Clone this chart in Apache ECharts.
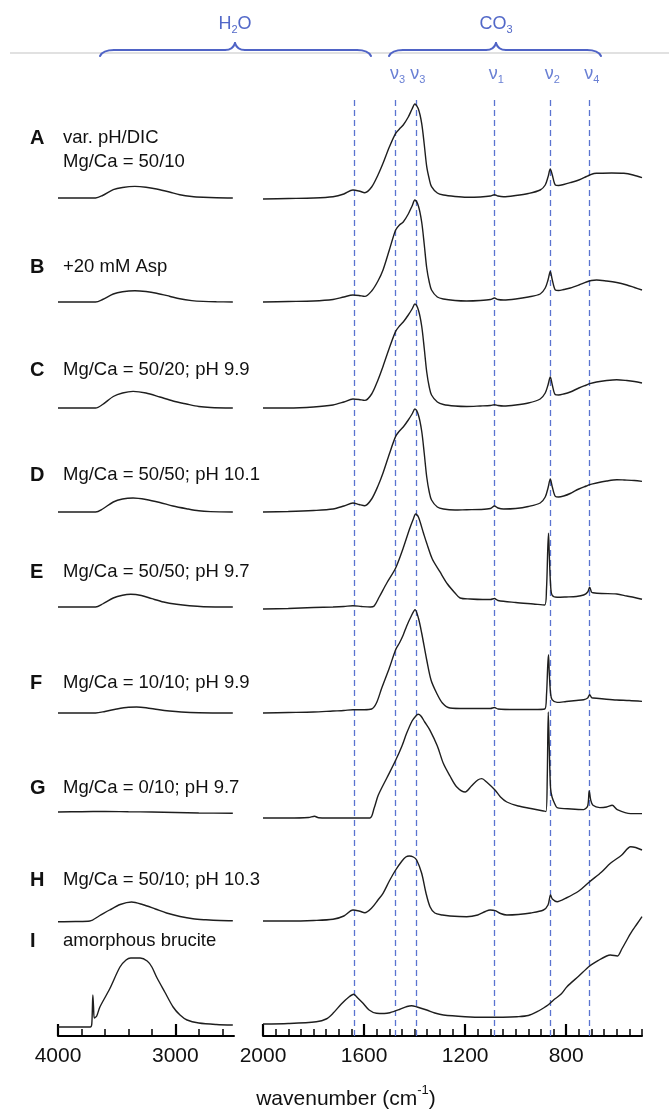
<!DOCTYPE html>
<html><head><meta charset="utf-8">
<script src="https://cdn.jsdelivr.net/npm/echarts@6/dist/echarts.min.js"></script>
<style>html,body{margin:0;padding:0;background:#fff}#c{width:669px;height:1111px}</style>
</head><body><div id="c"></div>
<script>
// ---------- labels ----------
const sampleIds = ['A','B','C','D','E','F','G','H','I'];
const sampleText = [
  ['var. pH/DIC','Mg/Ca = 50/10'],
  ['+20 mM Asp'],
  ['Mg/Ca = 50/20; pH 9.9'],
  ['Mg/Ca = 50/50; pH 10.1'],
  ['Mg/Ca = 50/50; pH 9.7'],
  ['Mg/Ca = 10/10; pH 9.9'],
  ['Mg/Ca = 0/10; pH 9.7'],
  ['Mg/Ca = 50/10; pH 10.3'],
  ['amorphous brucite']
];
// ---------- axis ticks ----------
const ticksH2O = [4000, 3000];
const minorTicksH2O = [3800, 3600, 3400, 3200, 2800, 2600];
const ticksCO3 = [2000, 1600, 1200, 800];
const minorStepCO3 = 50;
const rangeH2O = [2500, 4000];
const rangeCO3 = [500, 2000];
// ---------- band positions (cm-1) ----------
const bandLines = [1640, 1475, 1395, 1085, 863, 707];
const bandLabelWn = [1475, 1395, 1085, 863, 707];
const bandLabelSub = ['3', '3', '1', '2', '4'];
// ---------- vertical offsets of each trace (A..I) ----------
const offsetsH2O = [838, 734, 628, 524, 429, 323, 224, 115, 9];
const offsetsCO3 = [837, 734, 628, 524, 427, 323, 218, 115, 12];

// ---------- H2O region (4000-2500) ----------
const h2oA = [[4000,0],[3800,0],[3680,0],[3620,2.5],[3529,8.3],[3450,10.5],[3345,11.6],[3250,10.8],[3160,9],[3050,6],[2962,3.3],[2860,1.5],[2763,0.7],[2650,0.2],[2510,0]];
const h2oB = [[4000,0],[3800,0],[3680,0],[3620,2.5],[3529,8],[3450,10.3],[3345,11.3],[3250,10.5],[3160,8.8],[3050,5.8],[2962,3.2],[2860,1.4],[2763,0.6],[2650,0.2],[2510,0]];
const h2oC = [[4000,0],[3800,0],[3680,0],[3620,3.5],[3529,11.5],[3450,15],[3360,16.6],[3250,15],[3132,11],[3020,7],[2905,4],[2800,1.5],[2700,0.5],[2510,0]];
const h2oD = [[4000,0],[3800,0],[3680,0],[3620,3],[3529,10],[3450,13],[3360,14],[3250,12.5],[3132,9.5],[3020,6],[2905,3.3],[2800,1.2],[2700,0.4],[2510,0]];
const h2oE = [[4000,0],[3800,0],[3680,0],[3620,3],[3529,9],[3450,11.8],[3380,12.7],[3290,11.5],[3200,8.3],[3100,5],[2990,2.7],[2880,1.2],[2760,0.3],[2510,0]];
const h2oF = [[4000,0],[3800,0],[3680,0],[3600,1.5],[3500,4],[3400,5.8],[3330,6],[3250,5.3],[3150,3.5],[3050,2],[2950,1],[2800,0.3],[2510,0]];
const h2oG = [[4000,0],[3800,0.3],[3600,0.5],[3400,0.2],[3200,0],[3000,-0.5],[2800,-1],[2510,-1.3]];
const h2oH = [[4000,-0.7],[3850,-0.5],[3728,0],[3650,5],[3560,11],[3470,16.5],[3373,19],[3280,16.5],[3170,12],[3075,8],[2960,4.5],[2850,2.2],[2740,1.2],[2620,0.5],[2510,0.3]];
const h2oI = [[4000,0],[3800,0],[3725,0],[3712,3],[3703,32],[3697,20],[3690,9],[3670,11],[3643,20],[3560,38],[3472,60],[3420,67],[3380,69],[3300,69],[3240,66],[3200,60],[3160,50],[3090,35],[3019,20],[2960,12],[2900,7],[2800,4],[2650,2.5],[2510,2]];

// ---------- CO3 region (2000-500) ----------
const co3A = [[2000,0],[1900,0.5],[1800,1],[1723,2.3],[1680,5],[1644,9],[1620,8],[1597,6.3],[1570,12],[1545,24],[1525,35.7],[1500,52],[1475,65.7],[1460,70],[1445,74],[1425,82],[1410,90],[1399,95],[1385,90],[1372,75.7],[1362,55],[1352,32.3],[1342,20],[1333,12.3],[1310,6],[1286,4],[1240,2.5],[1194,1.7],[1140,2],[1100,3],[1084,4.3],[1070,3],[1048,2.3],[1000,3.5],[950,5.5],[903,9],[883,14],[872,22],[863,30],[855,24],[843,14],[830,13.5],[810,14.5],[784,16.3],[750,19],[720,22.5],[707,24],[690,25.5],[678,25.7],[620,26],[572,25.7],[535,24],[500,21.3]];
const co3B = [[2000,0],[1900,0.5],[1800,1],[1723,2.5],[1680,5],[1644,7],[1620,6.5],[1597,5.6],[1570,11],[1545,21],[1525,32],[1500,52],[1475,72],[1460,77],[1445,80],[1425,88],[1410,96],[1399,102],[1385,96],[1372,80],[1362,58],[1352,34],[1342,20],[1333,12],[1310,5],[1286,3],[1240,1.5],[1194,1],[1140,1.5],[1100,2.5],[1084,4],[1070,2.5],[1048,2],[1000,3],[950,5],[903,8],[883,14],[872,22],[863,30.6],[855,22],[843,12],[830,11.5],[810,12.5],[784,14],[750,17],[720,20],[700,21.5],[680,22],[640,21],[600,19.5],[560,17],[530,14.5],[500,12]];
const co3C = [[2000,0],[1900,0],[1800,1],[1723,3],[1680,6],[1644,9],[1620,8.5],[1597,7.6],[1570,14],[1545,28],[1525,41.6],[1500,60],[1475,76.6],[1460,82],[1445,86],[1425,93],[1410,99],[1399,104],[1385,98],[1372,82],[1362,60],[1352,36],[1342,21],[1333,13],[1310,6],[1286,3.5],[1240,2],[1194,1.5],[1140,2],[1100,2.5],[1084,3.3],[1070,2.5],[1048,2],[1000,3],[950,5],[903,9],[883,15],[872,23],[863,31],[855,23],[843,13.3],[830,13],[810,14],[784,16],[750,20],[720,23],[707,24.3],[680,26],[640,27.5],[600,28.3],[560,27.5],[530,26.5],[500,25]];
const co3D = [[2000,0],[1900,0.5],[1800,1.5],[1723,3],[1680,6],[1644,9],[1620,7.5],[1597,6.3],[1570,13],[1545,26],[1525,39],[1500,58],[1475,75.6],[1460,81],[1445,85],[1425,92],[1410,98],[1399,103],[1385,97],[1372,81],[1362,59],[1352,35],[1342,20],[1333,12],[1310,5],[1286,3],[1240,2],[1194,2.3],[1140,2.5],[1100,3.5],[1084,6],[1070,4],[1048,3],[1000,3.5],[950,5.5],[903,9],[883,15],[872,24],[863,33],[855,25],[843,15.6],[830,15],[810,16],[784,18.5],[750,23],[720,26],[707,27.3],[680,29],[640,31],[600,32.3],[570,32],[530,31.5],[500,30.6]];
const co3E = [[2000,0],[1900,0.5],[1800,1.5],[1723,2],[1680,2.5],[1644,3.3],[1610,2.5],[1575,2],[1560,3],[1540,12],[1510,26],[1475,41],[1445,61],[1420,80],[1405,90],[1396,95],[1385,92],[1365,76],[1352,65.7],[1330,50],[1300,37.3],[1270,25],[1240,16],[1220,11],[1180,10],[1130,9.5],[1100,9.5],[1084,10.5],[1070,8.5],[1000,6.5],[930,5],[885,4],[878,20],[873,60],[870,75.7],[867,55],[862,25],[856,14],[836,11.7],[800,12],[760,12.5],[731,14],[715,17],[707,21.7],[700,17],[694,16.3],[660,15.5],[600,15],[560,13],[530,11.5],[500,9.7]];
const co3F = [[2000,0],[1900,0.5],[1800,1],[1723,2],[1680,2.5],[1644,3.3],[1600,3.3],[1570,4],[1551,10],[1530,25],[1500,45],[1475,63.3],[1460,70],[1445,78],[1432,86.6],[1415,96],[1398,103.3],[1385,95],[1372,80],[1352,53],[1335,33],[1313,20],[1290,10],[1260,5],[1200,4.5],[1100,4.5],[1084,5.5],[1070,4],[1000,3.5],[930,3.5],[885,4],[878,18],[873,48],[870,58.3],[867,40],[862,20],[856,13.3],[836,10.6],[800,11.5],[760,12.5],[731,13.3],[715,15],[707,18.3],[700,15.5],[694,15],[650,14],[600,13],[550,12.5],[500,11.6]];
const co3G = [[2000,0],[1900,0],[1820,0.5],[1796,1.7],[1780,0.3],[1700,0],[1640,0],[1577,0],[1560,10],[1544,22.7],[1510,40],[1475,57.7],[1450,72],[1432,84.4],[1410,97],[1395,102],[1386,103.7],[1375,102],[1360,96],[1339,87.7],[1310,72],[1286,54.4],[1260,42],[1233,31],[1200,26],[1175,32],[1150,38],[1134,39.4],[1115,36],[1081,27.7],[1060,21],[1035,16],[990,12],[940,9.5],[890,7],[880,6.5],[875,40],[871,106],[867,70],[862,30],[856,21],[845,14],[836,10.4],[780,9],[731,8.4],[715,12],[709,27],[703,18],[694,12.7],[667,10.4],[640,11],[618,12.7],[598,8.4],[545,4.4],[500,4.4]];
const co3H = [[2000,0],[1900,0],[1800,0.5],[1723,1.7],[1680,5],[1644,11],[1620,10],[1597,8.3],[1570,13],[1545,21],[1525,27.7],[1500,40],[1475,51],[1450,60],[1435,64],[1421,65],[1405,64],[1392,61],[1372,47.7],[1355,28],[1339,14.3],[1320,8],[1290,6],[1260,5],[1194,4.3],[1150,6],[1120,9.5],[1101,11],[1081,10.3],[1060,7.5],[1035,6],[990,6.5],[940,8],[890,11],[872,16],[862,26],[855,22],[836,19.3],[800,23],[750,30],[707,39.3],[660,49],[625,57.7],[580,66],[545,74.3],[525,73.5],[500,71]];
const co3I = [[2000,0],[1900,0.5],[1789,2.3],[1750,5],[1723,10.7],[1690,20],[1660,27],[1641,29.7],[1625,26],[1604,20.7],[1580,14],[1551,10.7],[1520,10.5],[1498,11.3],[1460,14.5],[1430,17.5],[1412,18.3],[1390,17],[1352,14],[1320,11],[1286,9],[1200,7.3],[1127,6.7],[1050,6.8],[995,7.3],[950,8.5],[915,12.3],[890,16],[872,19],[850,24],[820,30],[797,37.3],[750,48],[707,58],[670,64],[640,68],[625,69],[598,68],[580,75],[560,84],[545,90.7],[520,100],[500,107.3]];

const spectraH2O = [h2oA, h2oB, h2oC, h2oD, h2oE, h2oF, h2oG, h2oH, h2oI];
const spectraCO3 = [co3A, co3B, co3C, co3D, co3E, co3F, co3G, co3H, co3I];

// ---------- styles ----------
const FONT = 'Liberation Sans, Arial, Helvetica, sans-serif';
const LINE_COLOR = '#1e1e1e';
const BLUE_DASH = '#5b74d0';
const BLUE_TEXT = '#5268c8';
const BLUE_NU = '#6a80d4';
const BRACE = '#4f63c6';
const GRID_TOP = 96, GRID_BOTTOM = 75;
const Y_MAX = 1111 - GRID_TOP - GRID_BOTTOM;

const chart = echarts.init(document.getElementById('c'), null, {renderer: 'canvas'});

function shifted(arr, off) { return arr.map(p => [p[0], p[1] + off]); }

const minorTicksCO3 = [];
for (let v = rangeCO3[0]; v <= rangeCO3[1]; v += minorStepCO3) {
  if (ticksCO3.indexOf(v) < 0) minorTicksCO3.push(v);
}

function mainAxis(grid, range, ticks) {
  return {
    type: 'value', gridIndex: grid, min: range[0], max: range[1], inverse: true, position: 'bottom',
    axisLine: {show: true, onZero: false, lineStyle: {color: '#000', width: 2}},
    axisTick: {show: true, inside: true, length: 12, customValues: ticks, lineStyle: {color: '#000', width: 2.2}},
    axisLabel: {show: true, customValues: ticks, margin: 10, fontSize: 21, color: '#111', fontFamily: FONT,
      formatter: v => String(v)},
    splitLine: {show: false}
  };
}
function minorAxis(grid, range, ticks) {
  return {
    type: 'value', gridIndex: grid, min: range[0], max: range[1], inverse: true, position: 'bottom',
    axisLine: {show: false, onZero: false},
    axisTick: {show: true, inside: true, length: 7, customValues: ticks, lineStyle: {color: '#000', width: 1.5}},
    axisLabel: {show: false},
    splitLine: {show: false}
  };
}

const series = [];
spectraH2O.forEach((s, i) => {
  series.push({
    type: 'line', xAxisIndex: 0, yAxisIndex: 0, data: shifted(s, offsetsH2O[i]),
    showSymbol: false, smooth: 0.3, lineStyle: {color: LINE_COLOR, width: 1.4}, silent: true
  });
});
spectraCO3.forEach((s, i) => {
  const ser = {
    type: 'line', xAxisIndex: 1, yAxisIndex: 1, data: shifted(s, offsetsCO3[i]),
    showSymbol: false, smooth: 0.3, lineStyle: {color: LINE_COLOR, width: 1.4}, silent: true, z: 3
  };
  if (i === 0) {
    ser.markLine = {
      silent: true, symbol: ['none', 'none'], label: {show: false},
      lineStyle: {color: BLUE_DASH, type: [6, 4], width: 1.3},
      data: bandLines.map(v => ({xAxis: v})), z: 1
    };
  }
  series.push(ser);
});

const option = {
  animation: false,
  backgroundColor: '#fff',
  grid: [
    {left: 58, width: 176, top: GRID_TOP, bottom: GRID_BOTTOM},
    {left: 263, width: 379, top: GRID_TOP, bottom: GRID_BOTTOM}
  ],
  xAxis: [
    mainAxis(0, rangeH2O, ticksH2O),
    mainAxis(1, rangeCO3, ticksCO3),
    minorAxis(0, rangeH2O, minorTicksH2O),
    minorAxis(1, rangeCO3, minorTicksCO3)
  ],
  yAxis: [
    {type: 'value', gridIndex: 0, min: 0, max: Y_MAX, show: false},
    {type: 'value', gridIndex: 1, min: 0, max: Y_MAX, show: false}
  ],
  series: series
};
chart.setOption(option);

// ---------- annotations ----------
const labelY = [138, 267, 370, 475, 572, 683, 788, 880, 941];
const graphics = [];
sampleIds.forEach((id, i) => {
  graphics.push({type: 'text', x: 30, y: labelY[i], silent: true,
    style: {text: id, font: 'bold 20px ' + FONT, fill: '#111', align: 'left', verticalAlign: 'middle'}});
  sampleText[i].forEach((t, k) => {
    graphics.push({type: 'text', x: 63, y: labelY[i] + k * 24, silent: true,
      style: {text: t, font: '18.5px ' + FONT, fill: '#111', align: 'left', verticalAlign: 'middle'}});
  });
});
// thin gray rule at top
graphics.push({type: 'line', silent: true, shape: {x1: 10, y1: 53, x2: 669, y2: 53},
  style: {stroke: '#c4c4c4', lineWidth: 1.2}});
// braces built from curves and lines
function brace(x1, xm, x2) {
  const st = {stroke: BRACE, lineWidth: 2, fill: null, lineCap: 'round'};
  return [
    {type: 'bezierCurve', silent: true, shape: {x1: x1, y1: 56, cpx1: x1 + 3, cpy1: 50, x2: x1 + 14, y2: 50}, style: st},
    {type: 'line', silent: true, shape: {x1: x1 + 14, y1: 50, x2: xm - 10, y2: 50}, style: st},
    {type: 'bezierCurve', silent: true, shape: {x1: xm - 10, y1: 50, cpx1: xm - 2, cpy1: 50, x2: xm, y2: 43}, style: st},
    {type: 'bezierCurve', silent: true, shape: {x1: xm, y1: 43, cpx1: xm + 2, cpy1: 50, x2: xm + 10, y2: 50}, style: st},
    {type: 'line', silent: true, shape: {x1: xm + 10, y1: 50, x2: x2 - 14, y2: 50}, style: st},
    {type: 'bezierCurve', silent: true, shape: {x1: x2 - 14, y1: 50, cpx1: x2 - 3, cpy1: 50, x2: x2, y2: 56}, style: st}
  ];
}
brace(100, 235, 371).forEach(g => graphics.push(g));
brace(389, 496, 601).forEach(g => graphics.push(g));
const subRich = {
  m: {fontSize: 18, fontFamily: FONT, fill: BLUE_TEXT, lineHeight: 20, verticalAlign: 'top'},
  s: {fontSize: 11, fontFamily: FONT, fill: BLUE_TEXT, lineHeight: 12, verticalAlign: 'bottom'}
};
graphics.push({type: 'text', x: 235, y: 25, silent: true,
  style: {text: '{m|H}{s|2}{m|O}', rich: subRich, align: 'center', verticalAlign: 'middle'}});
graphics.push({type: 'text', x: 496, y: 25, silent: true,
  style: {text: '{m|CO}{s|3}', rich: subRich, align: 'center', verticalAlign: 'middle'}});
const nuRich = {
  m: {fontSize: 18, fontFamily: FONT, fill: BLUE_NU, lineHeight: 20, verticalAlign: 'top'},
  s: {fontSize: 11, fontFamily: FONT, fill: BLUE_NU, lineHeight: 12, verticalAlign: 'bottom'}
};
bandLabelWn.forEach((wn, i) => {
  const px = chart.convertToPixel({xAxisIndex: 1}, wn);
  graphics.push({type: 'text', x: px + 2, y: 75, silent: true,
    style: {text: '{m|\u03bd}{s|' + bandLabelSub[i] + '}', rich: nuRich, align: 'center', verticalAlign: 'middle'}});
});
// axis title with superscript
graphics.push({type: 'text', x: 346, y: 1097, silent: true,
  style: {text: '{m|wavenumber (cm}{p|-1}{m|)}',
    rich: {
      m: {fontSize: 21, fontFamily: FONT, fill: '#111', lineHeight: 26, verticalAlign: 'bottom'},
      p: {fontSize: 13, fontFamily: FONT, fill: '#111', lineHeight: 14, verticalAlign: 'top'}
    }, align: 'center', verticalAlign: 'middle'}});
chart.setOption({graphic: graphics});
</script></body></html>
